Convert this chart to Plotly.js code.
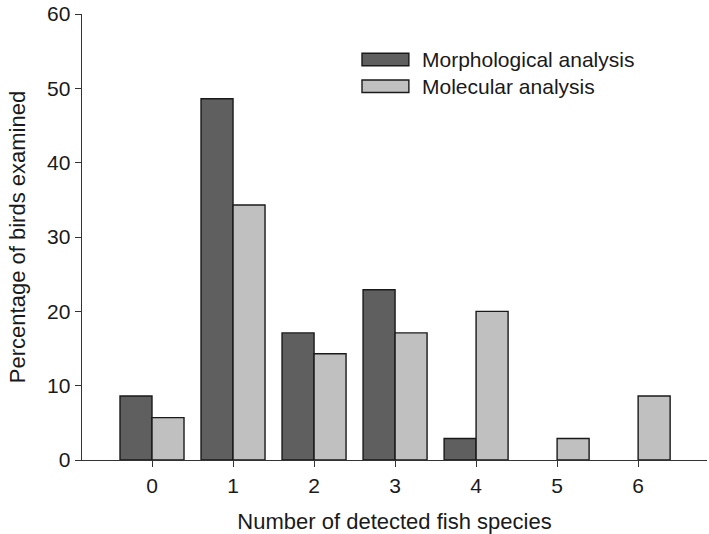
<!DOCTYPE html>
<html>
<head>
<meta charset="utf-8">
<script src="https://cdn.plot.ly/plotly-3.0.1.min.js"></script>
<style>
  html, body { margin: 0; padding: 0; background: #fff; }
  #chart { width: 709px; height: 534px; }
</style>
</head>
<body>
<div id="chart"></div>
<script>
// number of fish species detected per bird
var species = [0, 1, 2, 3, 4, 5, 6];
var morphological = [8.6, 48.6, 17.1, 22.9, 2.9, 0, 0];
var molecular = [5.7, 34.3, 14.3, 17.1, 20.0, 2.9, 8.6];
var seriesNames = ["Morphological analysis", "Molecular analysis"];
var seriesColors = ["#5f5f5f", "#c0c0c0"];

var fontFamily = "Liberation Sans, Arial, sans-serif";
var ink = "#1a1a1a";

// no outline on empty bars, otherwise a stray line sits on the axis
function outlineWidths(vals) {
    return vals.map(function(v) { return v > 0 ? 1.4 : 0; });
}

var data = [morphological, molecular].map(function(vals, i) {
    return {
        x: species,
        y: vals,
        name: seriesNames[i],
        type: "bar",
        marker: {color: seriesColors[i], line: {color: ink, width: outlineWidths(vals)}}
    };
});

// legend drawn by hand so the swatches are wide rectangles like the original
var legendY = [0.898, 0.838];
var shapes = [];
var annotations = [];
seriesNames.forEach(function(name, i) {
    shapes.push({
        type: "rect", xref: "paper", yref: "paper",
        x0: 0.448, x1: 0.523, y0: legendY[i] - 0.014, y1: legendY[i] + 0.014,
        fillcolor: seriesColors[i], line: {color: ink, width: 1.4}
    });
    annotations.push({
        xref: "paper", yref: "paper", x: 0.54, y: legendY[i],
        xanchor: "left", yanchor: "middle", showarrow: false,
        text: name, font: {family: fontFamily, size: 21, color: ink}
    });
});

var layout = {
    width: 709,
    height: 534,
    margin: {l: 82, r: 2, t: 14, b: 74},
    paper_bgcolor: "#fff",
    plot_bgcolor: "#fff",
    showlegend: false,
    barmode: "group",
    bargap: 0.21,
    bargroupgap: 0,
    font: {family: fontFamily, color: ink},
    xaxis: {
        range: [-0.864, 6.85],
        tickvals: species,
        ticks: "outside",
        ticklen: 6,
        tickcolor: "#333",
        showline: true,
        linecolor: "#333",
        linewidth: 1.4,
        showgrid: false,
        zeroline: false,
        tickfont: {size: 21},
        automargin: false,
        title: {text: "Number of detected fish species", font: {size: 22}, standoff: 18}
    },
    yaxis: {
        range: [0, 60],
        tickvals: [0, 10, 20, 30, 40, 50, 60],
        ticks: "outside",
        ticklen: 6,
        tickcolor: "#333",
        showline: true,
        linecolor: "#333",
        linewidth: 1.4,
        showgrid: false,
        zeroline: false,
        tickfont: {size: 21},
        automargin: false,
        title: {text: "Percentage of birds examined", font: {size: 22}, standoff: 15}
    },
    shapes: shapes,
    annotations: annotations
};

Plotly.newPlot("chart", data, layout, {staticPlot: true});
</script>
</body>
</html>
